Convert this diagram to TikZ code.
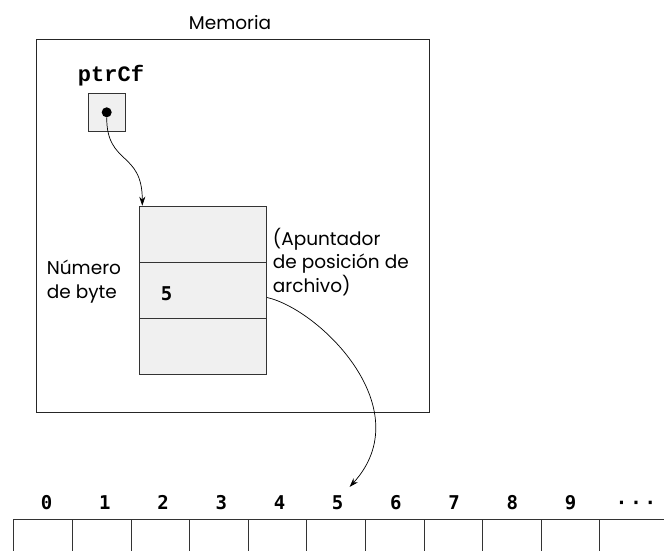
\documentclass[tikz,border=0pt]{standalone}
\usepackage{fontspec}
\setmainfont{Poppins}
\newfontfamily\ptrfont{Liberation Mono}
\newfontfamily\bytefont{DejaVu Sans Mono}
\usetikzlibrary{arrows.meta,positioning}

\begin{document}
\begin{tikzpicture}[x=1pt, y=-1pt,
  txt/.style={font=\fontsize{18.5}{23.5}\selectfont, inner sep=0pt},
  slot/.style={draw=black!80, fill=gray!12, line width=0.9pt, minimum width=127pt, minimum height=56.2pt, anchor=north west, inner sep=0pt},
  byte/.style={draw=black!80, line width=0.9pt, minimum width=58.6pt, minimum height=40pt, anchor=north west, inner sep=0pt},
  num/.style={font=\bytefont\bfseries\fontsize{19}{20}\selectfont, inner sep=1pt, anchor=base},
  ptr/.style={->, >={Stealth[length=9pt,width=6pt]}, line width=0.7pt}
]
\clip (0,0) rectangle (664,550);
% memoria
\node[txt, anchor=base] (title) at (230,29) {Memoria};
\node[draw=black!85, line width=0.9pt, minimum width=393pt, minimum height=372.7pt, anchor=north west] (mem) at (36,39.3) {};
\node[font=\ptrfont\bfseries\fontsize{22}{24}\selectfont, inner sep=0pt, anchor=base] (ptrname) at (111,81.7) {ptrCf};
\node[draw=black!80, fill=gray!12, line width=0.9pt, minimum size=37.5pt] (ptrbox) at (107,112.3) {};
\node[circle, fill=black, minimum size=10pt, inner sep=0pt] (dot) at (106.7,112.3) {};
\node[slot] (m1) at (139,205.7) {};
\node[slot] (m2) at (139,261.9) {};
\node[slot] (m3) at (139,318.1) {};
\node[num] (val) at (166.7,300) {5};
\node[txt, align=left, anchor=base west] (bytelbl) at (46.7,298.3) {Número\\de byte};
\node[txt, align=left, anchor=base west] (fplbl) at (272.7,292.3) {(Apuntador\\de posición de\\archivo)};
% archivo
\foreach \i in {0,...,9} {
  \node[byte] (c\i) at ({13.3+58.6*\i},519.3) {};
  \node[num] (n\i) at ({46.7+58.2*\i},509) {\i};
}
\node[byte, minimum width=80pt] (cdots) at (599.3,519.3) {};
\node[num] (ndots) at (636,509) {·\kern3pt·\kern3pt·};
% apuntadores
\draw[ptr] (dot.south) .. controls +(0,48) and +(0,-55) .. ([xshift=3.3pt]m1.north west);
\draw[ptr] ([yshift=-7pt]m2.east) .. controls +(53,12) and +(71,-78) .. ([shift={(5,-7)}]n5.north east);
\end{tikzpicture}
\end{document}
